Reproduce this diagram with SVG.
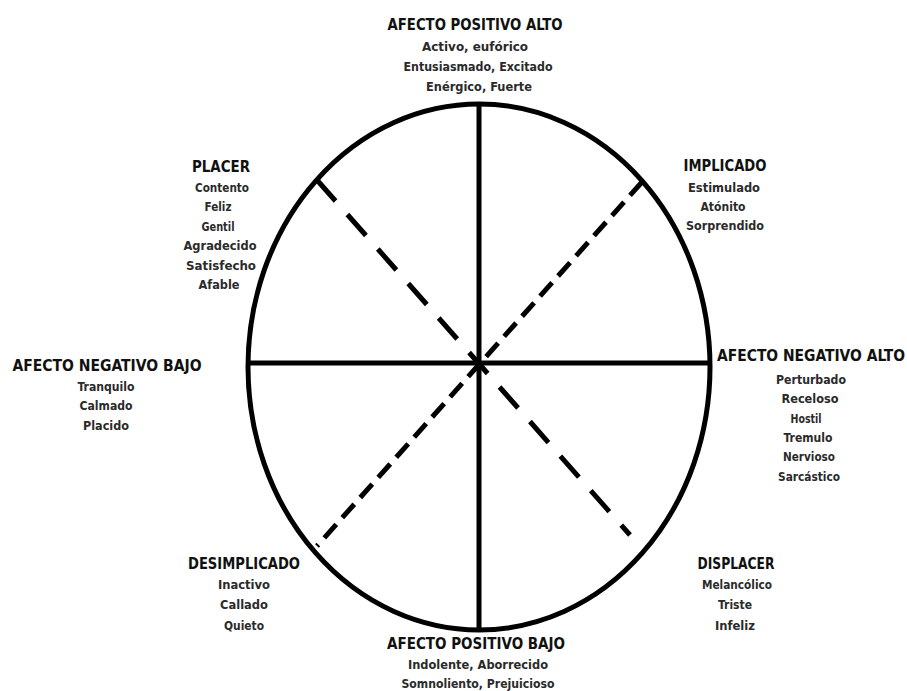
<svg xmlns="http://www.w3.org/2000/svg" width="907" height="691" viewBox="0 0 907 691">
<style>
text{font-family:"DejaVu Sans Condensed","DejaVu Sans","Liberation Sans",sans-serif;text-anchor:middle;font-weight:bold}
.t{font-size:15px;fill:#111}
.i{font-size:12.5px;fill:#2a2a2a}
.solid{stroke:#000;stroke-width:5;fill:none}
.dl{stroke:#000;stroke-width:5;fill:none;stroke-dasharray:28 18}
.ds{stroke:#000;stroke-width:5;fill:none;stroke-dasharray:18 9}
</style>
<rect width="907" height="691" fill="#fff"/>
<g id="connectors">
<ellipse class="solid" cx="479" cy="367" rx="231" ry="263"/>
<line class="solid" x1="479" y1="104" x2="479" y2="630"/>
<line class="solid" x1="248" y1="363" x2="709" y2="363"/>
<line class="dl" x1="317" y1="180" x2="630" y2="535"/>
<line class="ds" x1="642" y1="182" x2="317" y2="546"/>
</g>
<g id="afecto-positivo-alto">
<text class="t" x="475" y="30" textLength="175" lengthAdjust="spacingAndGlyphs">AFECTO POSITIVO ALTO</text>
<text class="i" x="475" y="51" textLength="106" lengthAdjust="spacingAndGlyphs">Activo, eufórico</text>
<text class="i" x="478" y="71" textLength="149" lengthAdjust="spacingAndGlyphs">Entusiasmado, Excitado</text>
<text class="i" x="479" y="91" textLength="106" lengthAdjust="spacingAndGlyphs">Enérgico, Fuerte</text>
</g>
<g id="placer">
<text class="t" x="221" y="172" textLength="58" lengthAdjust="spacingAndGlyphs">PLACER</text>
<text class="i" x="222" y="192" textLength="54" lengthAdjust="spacingAndGlyphs">Contento</text>
<text class="i" x="218" y="211" textLength="27" lengthAdjust="spacingAndGlyphs">Feliz</text>
<text class="i" x="218" y="231" textLength="33" lengthAdjust="spacingAndGlyphs">Gentil</text>
<text class="i" x="220" y="250" textLength="73" lengthAdjust="spacingAndGlyphs">Agradecido</text>
<text class="i" x="221" y="270" textLength="70" lengthAdjust="spacingAndGlyphs">Satisfecho</text>
<text class="i" x="219" y="289" textLength="41" lengthAdjust="spacingAndGlyphs">Afable</text>
</g>
<g id="implicado">
<text class="t" x="725" y="171" textLength="83" lengthAdjust="spacingAndGlyphs">IMPLICADO</text>
<text class="i" x="724" y="192" textLength="72" lengthAdjust="spacingAndGlyphs">Estimulado</text>
<text class="i" x="723" y="211" textLength="45" lengthAdjust="spacingAndGlyphs">Atónito</text>
<text class="i" x="725" y="230" textLength="78" lengthAdjust="spacingAndGlyphs">Sorprendido</text>
</g>
<g id="afecto-negativo-bajo">
<text class="t" x="107" y="371" textLength="189" lengthAdjust="spacingAndGlyphs">AFECTO NEGATIVO BAJO</text>
<text class="i" x="106" y="391" textLength="57" lengthAdjust="spacingAndGlyphs">Tranquilo</text>
<text class="i" x="106" y="410" textLength="53" lengthAdjust="spacingAndGlyphs">Calmado</text>
<text class="i" x="106" y="430" textLength="46" lengthAdjust="spacingAndGlyphs">Placido</text>
</g>
<g id="afecto-negativo-alto">
<text class="t" x="811" y="361" textLength="188" lengthAdjust="spacingAndGlyphs">AFECTO NEGATIVO ALTO</text>
<text class="i" x="811" y="384" textLength="70" lengthAdjust="spacingAndGlyphs">Perturbado</text>
<text class="i" x="810" y="403" textLength="57" lengthAdjust="spacingAndGlyphs">Receloso</text>
<text class="i" x="806" y="423" textLength="31" lengthAdjust="spacingAndGlyphs">Hostil</text>
<text class="i" x="808" y="442" textLength="49" lengthAdjust="spacingAndGlyphs">Tremulo</text>
<text class="i" x="809" y="461" textLength="52" lengthAdjust="spacingAndGlyphs">Nervioso</text>
<text class="i" x="809" y="481" textLength="62" lengthAdjust="spacingAndGlyphs">Sarcástico</text>
</g>
<g id="desimplicado">
<text class="t" x="244" y="569" textLength="112" lengthAdjust="spacingAndGlyphs">DESIMPLICADO</text>
<text class="i" x="244" y="589" textLength="52" lengthAdjust="spacingAndGlyphs">Inactivo</text>
<text class="i" x="244" y="609" textLength="48" lengthAdjust="spacingAndGlyphs">Callado</text>
<text class="i" x="244" y="630" textLength="40" lengthAdjust="spacingAndGlyphs">Quieto</text>
</g>
<g id="displacer">
<text class="t" x="736" y="569" textLength="77" lengthAdjust="spacingAndGlyphs">DISPLACER</text>
<text class="i" x="737" y="589" textLength="70" lengthAdjust="spacingAndGlyphs">Melancólico</text>
<text class="i" x="735" y="609" textLength="34" lengthAdjust="spacingAndGlyphs">Triste</text>
<text class="i" x="735" y="630" textLength="40" lengthAdjust="spacingAndGlyphs">Infeliz</text>
</g>
<g id="afecto-positivo-bajo">
<text class="t" x="476" y="649" textLength="178" lengthAdjust="spacingAndGlyphs">AFECTO POSITIVO BAJO</text>
<text class="i" x="478" y="669" textLength="140" lengthAdjust="spacingAndGlyphs">Indolente, Aborrecido</text>
<text class="i" x="478" y="688" textLength="153" lengthAdjust="spacingAndGlyphs">Somnoliento, Prejuicioso</text>
</g>
</svg>
